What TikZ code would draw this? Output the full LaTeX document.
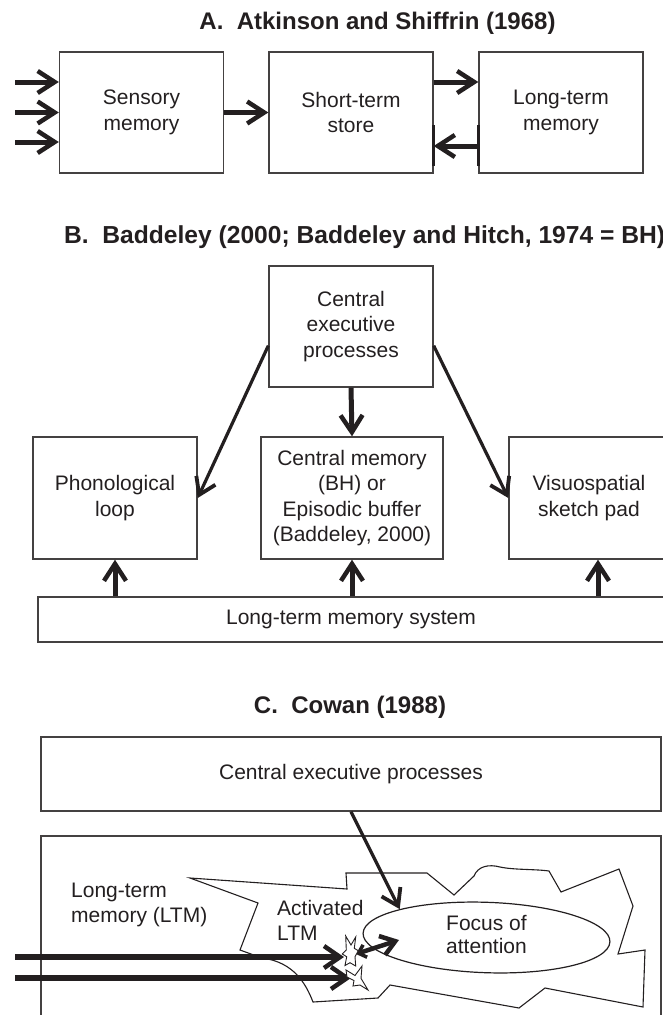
\documentclass[tikz,border=0pt]{standalone}
\usepackage{fontspec}
\setmainfont{Liberation Sans}
\usetikzlibrary{arrows.meta,shapes.geometric}
\definecolor{ink}{HTML}{231F20}
\begin{document}
\begin{tikzpicture}[x=1pt,y=-1pt,
  box/.style={draw=ink!85, line width=1.4pt, inner sep=0pt, align=center, text=ink,
    font=\fontsize{21}{25.5}\selectfont},
  lbl/.style={inner sep=0pt, text=ink, font=\fontsize{21}{25}\selectfont},
  ttl/.style={inner sep=0pt, text=ink, font=\fontsize{24}{28}\selectfont\bfseries},
  arr/.style={draw=ink, line width=5pt, -{Straight Barb[length=17pt,width=22pt,line width=4.5pt]}},
  arrB/.style={draw=ink, line width=3.2pt, -{Straight Barb[length=16pt,width=21pt,line width=3.8pt]}},
  arrC/.style={draw=ink, line width=6pt, -{Straight Barb[length=16pt,width=22pt,line width=4.5pt]}},
  arrD/.style={draw=ink, line width=4.5pt, {Straight Barb[length=7pt,width=13pt,line width=3.5pt]}-{Straight Barb[length=14pt,width=20pt,line width=4.5pt]}},
  blob/.style={draw=ink, line width=1.1pt},
  spark/.style={draw=ink, line width=0.9pt, fill=white, line join=miter}
]
\useasboundingbox (0,0) rectangle (663,1015);

% ---------------- A ----------------
\node[ttl] (tA) at (377.5,23) {A.\ \ Atkinson and Shiffrin (1968)};
\node[box, minimum width=164pt, minimum height=121pt] (sm) at (141.5,112.5) {Sensory\\memory};
\node[box, minimum width=164pt, minimum height=121pt] (sts) at (351,112.5) {Short-term\\store};
\node[box, minimum width=164pt, minimum height=121pt] (ltmA) at (561,112.5) {Long-term\\memory};

\coordinate (in1) at (15,82);
\coordinate (in2) at (15,112.5);
\coordinate (in3) at (15,142);
\draw[arr] (in1) -- (in1 -| sm.west);
\draw[arr] (in2) -- (in2 -| sm.west);
\draw[arr] (in3) -- (in3 -| sm.west);
\draw[arr] (sm.east) -- (sts.west);
\coordinate (ya) at (0,82);
\coordinate (yb) at (0,146);
\draw[arr] (ya -| sts.east) -- (ya -| ltmA.west);
\draw[arr] (yb -| ltmA.west) -- (yb -| sts.east);
\coordinate (t1) at (0,125);
\coordinate (t2) at (0,166);
\draw[ink, line width=3pt] (t1 -| sts.east) -- (t2 -| sts.east);
\draw[ink, line width=3pt] (t1 -| ltmA.west) -- (t2 -| ltmA.west);

% ---------------- B ----------------
\node[ttl, anchor=west, font=\fontsize{24.6}{28}\selectfont\bfseries] (tB) at (64,237) {B.\ \ Baddeley (2000; Baddeley and Hitch, 1974 = BH)};
\node[box, minimum width=164pt, minimum height=121pt] (ceB) at (351,326.5) {Central\\executive\\processes};
\node[box, minimum width=164pt, minimum height=122pt] (pl) at (115,498) {Phonological\\loop};
\node[box, minimum width=182pt, minimum height=122pt] (cm) at (352,498) {Central memory\\(BH) or\\Episodic buffer\\(Baddeley, 2000)};
\node[box, minimum width=160pt, minimum height=122pt] (vs) at (589,498) {Visuospatial\\sketch pad};
\node[box, minimum width=626pt, minimum height=45pt] (ltmB) at (351,619.5) {Long-term memory system};

\draw[arrB] ([yshift=42pt]ceB.south west) -- (pl.east);
\draw[arrB] ([yshift=42pt]ceB.south east) -- (vs.west);
\draw[arr] (ceB.south) -- (cm.north);
\coordinate (vsa) at ([xshift=9pt]vs.south);
\draw[arr] (pl.south |- ltmB.north) -- (pl.south);
\draw[arr] (cm.south |- ltmB.north) -- (cm.south);
\draw[arr] (vsa |- ltmB.north) -- (vsa);

% ---------------- C ----------------
\node[ttl] (tC) at (350,707) {C.\ \ Cowan (1988)};
\node[box, minimum width=620pt, minimum height=74pt] (ceC) at (351,774) {Central executive processes};
\node[draw=ink!85, line width=1.4pt, inner sep=0pt, minimum width=620pt, minimum height=230pt] (outer) at (351,951) {};

% activated LTM region
\draw[blob] (190,878) -- (347,889) -- (346,873) -- (427,873) -- (454,895) -- (474,876)
  .. controls (478,866) and (489,864) .. (500,867)
  .. controls (514,870) and (535,869) .. (549,871)
  -- (561,892) -- (619,869) -- (633,906) -- (618,954) -- (645,950) -- (643,1007)
  -- (545,988) -- (519,1008) -- (390,985) -- (378,998) -- (313,1002)
  .. controls (306,984) and (294,962) .. (262,958)
  -- (240,950) -- (258,903) -- cycle;

\node[draw=ink, line width=1.2pt, ellipse, rotate=-2, inner sep=0pt, minimum width=247pt, minimum height=61pt,
  align=center, text=ink, font=\fontsize{21}{23.5}\selectfont] (focus) at (486.5,937.5) {\rotatebox{2}{\begin{tabular}{@{}c@{}}Focus of\\attention\end{tabular}}};

\node[lbl, anchor=west, align=left] (ltmlbl) at (71,904.5) {Long-term\\memory (LTM)};
\node[lbl, anchor=west, align=left] (act) at (277,920.5) {Activated\\LTM};

\draw[arrB] (ceC.south) -- (focus.north west);

\coordinate (c1) at (15,957);
\coordinate (c1e) at (344,957);
\coordinate (c2) at (15,978);
\coordinate (c2e) at (351,978);
\draw[arrC] (c1) -- (c1e);
\draw[arrC] (c2) -- (c2e);

\coordinate (d1) at (356,954);
\coordinate (d2) at (399,940);
\draw[arrD] (d1) -- (d2);

% sparks
\draw[spark] (345.7,936) -- (351,945) -- (355.7,937) -- (354.3,948.3) -- (358.3,950.7) -- (355,956.7)
  -- (355.7,966) -- (350,962.7) -- (345,965.5) -- (346.7,956.7) -- (342.3,954) -- (346.3,950) -- cycle;
\draw[spark] (346,970) -- (355,975.5) -- (362,966) -- (361,978.3) -- (368,990) -- (360,985)
  -- (353,986) -- (354,980.5) -- (347,977) -- cycle;
\end{tikzpicture}
\end{document}
